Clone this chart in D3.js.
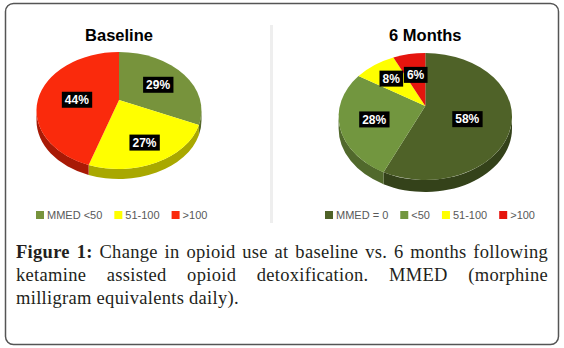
<!DOCTYPE html>
<html>
<head>
<meta charset="utf-8">
<script src="https://cdn.jsdelivr.net/npm/d3@7"></script>
<style>
  body { margin: 0; background: #fff; }
  #wrap { position: relative; width: 564px; height: 348px; }
  #caption { position: absolute; left: 16px; top: 241px; width: 532px;
    font-family: "Liberation Serif", "Times New Roman", serif; font-size: 18.5px;
    letter-spacing: 0.3px; line-height: 23px; color: #231f20; }
  #caption .just { text-align: justify; text-align-last: justify; }
</style>
</head>
<body>
<div id="wrap">
  <svg id="chart" width="564" height="348"></svg>
  <div id="caption"></div>
</div>
<script>
// data
let baselineLabels = ["MMED <50", "51-100", ">100"]
let baselineValues = [29, 27, 44]
let monthLabels = ["MMED = 0", "<50", "51-100", ">100"]
let monthValues = [58, 28, 8, 6]
let captionLines = [
    ["Figure 1:", " Change in opioid use at baseline vs. 6 months following"],
    ["", "ketamine assisted opioid detoxification. MMED (morphine"],
    ["", "milligram equivalents daily)."]
]

let svg = d3.select("#chart")

// outer frame and the light divider between the two pies
svg.append("rect")
    .attr("x", 5.5).attr("y", 3.5).attr("width", 553).attr("height", 341)
    .attr("rx", 8).attr("fill", "none").attr("stroke", "#555").attr("stroke-width", 1.5)
svg.append("rect")
    .attr("x", 270).attr("y", 25).attr("width", 3).attr("height", 198).attr("fill", "#eeeeee")

// Draw a tilted 3D pie. geom holds the ellipse, apex shift and depth
function drawPie(g, title, labels, values, colors, sides, geom) {
    let pie = d3.pie().sort(null).value(d => d)
    let arcs = pie(values)

    let rim = (a, dy) => [geom.cx + geom.rx * Math.sin(a), geom.cy - geom.ry * Math.cos(a) + (dy || 0)]
    let apex = [geom.cx, geom.cy - geom.apex]

    // side walls, only the front half is visible
    arcs.forEach(function (d, i) {
        let b0 = Math.max(d.startAngle, Math.PI / 2)
        let b1 = Math.min(d.endAngle, 3 * Math.PI / 2)
        if (b1 <= b0) return
        let p0 = rim(b0), p1 = rim(b1), q0 = rim(b0, geom.depth), q1 = rim(b1, geom.depth)
        let s = "M" + p0 + "A" + geom.rx + "," + geom.ry + " 0 0 1 " + p1 +
            "L" + q1 + "A" + geom.rx + "," + geom.ry + " 0 0 0 " + q0 + "Z"
        g.append("path").attr("d", s).attr("fill", sides[i])
    })

    // top surface
    arcs.forEach(function (d, i) {
        let p0 = rim(d.startAngle), p1 = rim(d.endAngle)
        let large = (d.endAngle - d.startAngle) > Math.PI ? 1 : 0
        let s = "M" + apex + "L" + p0 + "A" + geom.rx + "," + geom.ry + " 0 " + large + " 1 " + p1 + "Z"
        g.append("path").attr("d", s).attr("fill", colors[i])
    })

    // percentage labels in black boxes
    arcs.forEach(function (d, i) {
        let mid = (d.startAngle + d.endAngle) / 2
        let r = rim(mid)
        let f = geom.labelFrac[i]
        let x = apex[0] + (r[0] - apex[0]) * f
        let y = apex[1] + (r[1] - apex[1]) * f
        let lg = g.append("g")
        let t = lg.append("text")
            .attr("x", x).attr("y", y).attr("dy", "0.36em")
            .attr("text-anchor", "middle")
            .style("font-family", "'Liberation Sans', Arial, sans-serif")
            .style("font-size", "12px").style("font-weight", "bold")
            .attr("fill", "#fff")
            .text(d.data + "%")
        let bb = t.node().getBBox()
        lg.insert("rect", "text")
            .attr("x", bb.x - 3).attr("y", y - 8).attr("width", bb.width + 6).attr("height", 16)
            .attr("fill", "#000")
    })

    // title
    g.append("text")
        .attr("x", geom.cx).attr("y", 40.5)
        .attr("text-anchor", "middle")
        .style("font-family", "'Liberation Sans', Arial, sans-serif")
        .style("font-size", "16.5px").style("font-weight", "bold")
        .attr("fill", "#000")
        .text(title)

    // legend, laid out left to right
    let lx = geom.legendX
    labels.forEach(function (lab, i) {
        g.append("rect").attr("x", lx).attr("y", 211).attr("width", 8).attr("height", 8).attr("fill", colors[i])
        let t = g.append("text")
            .attr("x", lx + 11).attr("y", 215).attr("dy", "0.36em")
            .style("font-family", "'Liberation Sans', Arial, sans-serif")
            .style("font-size", "11px").attr("fill", "#595959")
            .text(lab)
        lx += 11 + t.node().getComputedTextLength() + 12
    })
}

drawPie(svg.append("g"), "Baseline", baselineLabels, baselineValues,
    ["#77933c", "#ffff00", "#fa2a0c"],
    ["#56692a", "#a9a800", "#a81a06"],
    {cx: 119, cy: 110.5, rx: 82.5, ry: 58.5, apex: 10.5, depth: 10,
        labelFrac: [0.6, 0.68, 0.52], legendX: 36})

drawPie(svg.append("g"), "6 Months", monthLabels, monthValues,
    ["#4f6228", "#72963f", "#ffff00", "#e5150e"],
    ["#34421a", "#51692c", "#a9a800", "#99100a"],
    {cx: 425.3, cy: 116.5, rx: 86.7, ry: 63.5, apex: 10.5, depth: 12,
        labelFrac: [0.5, 0.6, 0.67, 0.6], legendX: 325})

// caption under the charts
let cap = d3.select("#caption")
captionLines.forEach(function (line, i) {
    let div = cap.append("div").attr("class", i < captionLines.length - 1 ? "just" : null)
    if (line[0]) div.append("b").text(line[0])
    div.append("span").text(line[1])
})
</script>
</body>
</html>
